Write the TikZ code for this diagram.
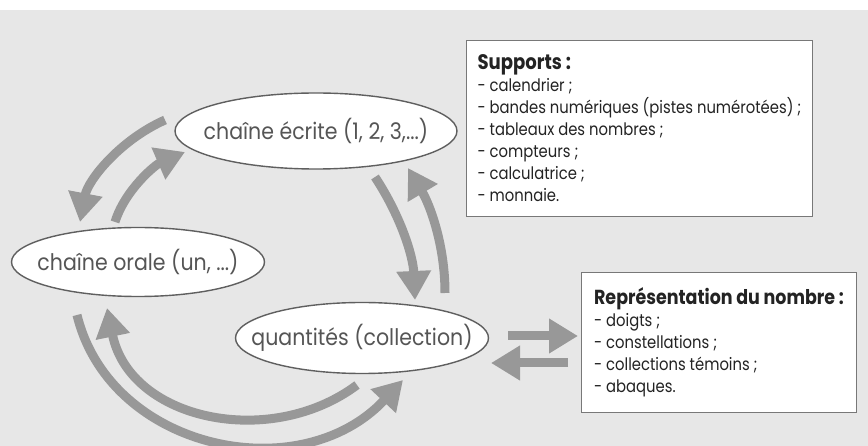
\documentclass[tikz,border=0pt]{standalone}
\usepackage{fontspec}
\usetikzlibrary{shapes.geometric,arrows.meta}
\newfontfamily\labfont{Poppins}[FakeStretch=0.9]
\newfontfamily\boxfont{Poppins}[FakeStretch=0.86]
\definecolor{bggray}{RGB}{231,231,231}
\definecolor{arrgray}{RGB}{152,152,152}
\definecolor{ellgray}{RGB}{95,95,95}
\definecolor{boxgray}{RGB}{120,120,120}
\definecolor{labtext}{RGB}{85,85,85}
\definecolor{boxtext}{RGB}{35,35,35}
\begin{document}
\begin{tikzpicture}[x=1pt,y=-1pt,
  lab/.style={ellipse, draw=ellgray, line width=1.4pt, fill=white, inner sep=0pt},
  labtxt/.style={text=labtext, inner sep=0pt, font=\labfont\fontsize{22.8}{27}\selectfont},
  infobox/.style={rectangle, draw=boxgray, line width=0.9pt, fill=white,
    anchor=north west, align=left, text=boxtext, inner xsep=8pt, inner ysep=6pt,
    font=\boxfont\fontsize{17.2}{22}\selectfont},
  bigarrow/.style={draw=arrgray, line width=9pt, -{Triangle[width=33pt,length=29pt]}}]
\useasboundingbox (0,0) rectangle (868,446);
\fill[white] (0,0) rectangle (868,10);
\fill[bggray] (0,10) rectangle (868,446);

% ellipses
\node[lab, minimum width=282pt, minimum height=76pt,
  label={[labtxt]center:chaîne écrite (1, 2, 3,...)}] (ecrite) at (316,131) {};
\node[lab, minimum width=253pt, minimum height=69pt,
  label={[labtxt]center:chaîne orale (un, ...)}] (orale) at (138,262) {};
\node[lab, minimum width=253pt, minimum height=71pt,
  label={[labtxt]center:quantités (collection)}] (quant) at (362,338) {};

% boxes
\node[infobox, minimum width=346pt, minimum height=176pt] (supports) at (466,40)
  {{\bfseries\fontsize{21}{22}\selectfont Supports :}\\
   - calendrier ;\\
   - bandes numériques (pistes numérotées) ;\\
   - tableaux des nombres ;\\
   - compteurs ;\\
   - calculatrice ;\\
   - monnaie.};
\node[infobox, minimum width=275pt, minimum height=140pt] (rep) at (581,272)
  {{\bfseries\fontsize{20.3}{22}\selectfont Représentation du nombre :}\\
   - doigts ;\\
   - constellations ;\\
   - collections témoins ;\\
   - abaques.};

% arrow end points
\coordinate (a1s) at (165,120); \coordinate (a1e) at (80,222);
\coordinate (a2s) at (115,222); \coordinate (a2e) at (185,152);
\coordinate (a3s) at (375,177); \coordinate (a3e) at (415,300);
\coordinate (a4s) at (445,293); \coordinate (a4e) at (408,168);
\coordinate (a5s) at (508,336); \coordinate (a5e) at (578,336);
\coordinate (a6s) at (568,363); \coordinate (a6e) at (491,363);
\coordinate (a7s) at (357,385); \coordinate (a7e) at (107,308);
\coordinate (a8s) at (77,315);  \coordinate (a8e) at (403,380);

\draw[bigarrow] (a1s) .. controls (120,140) and (88,180) .. (a1e);
\draw[bigarrow] (a2s) .. controls (125,190) and (155,165) .. (a2e);
\draw[bigarrow] (a3s) .. controls (400,215) and (413,255) .. (a3e);
\draw[bigarrow] (a4s) .. controls (445,245) and (430,205) .. (a4e);
\draw[bigarrow] (a5s) -- (a5e);
\draw[bigarrow] (a6s) -- (a6e);
\draw[bigarrow] (a7s) .. controls (270,450) and (130,420) .. (a7e);
\draw[bigarrow] (a8s) .. controls (110,450) and (300,490) .. (a8e);
\end{tikzpicture}
\end{document}
